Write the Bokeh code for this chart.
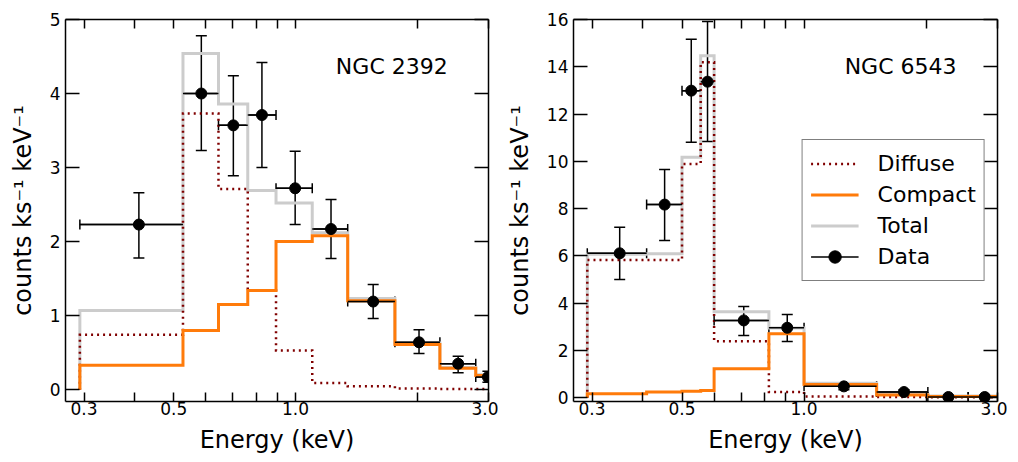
from bokeh.plotting import figure
from bokeh.models import (FixedTicker, LogAxis, LinearAxis, Range1d, Legend, LegendItem, Label,
                          Whisker, TeeHead, ColumnDataSource, CustomJSTickFormatter, SingleIntervalTicker)
from bokeh.layouts import row
from bokeh.embed import file_html
from bokeh.resources import INLINE

FONT = "DejaVu Sans"
C_DIFF = "#800000"
C_COMP = "#ff7b0a"
C_TOT = "#cccccc"

# shared x ticks (keV)
x_major_ticks = [0.3, 0.5, 1.0, 3.0]
x_minor_ticks = [0.4, 0.6, 0.7, 0.8, 0.9, 2.0]

# ---------------- NGC 2392 ----------------
n2392_edges = [0.293, 0.527, 0.645, 0.762, 0.895, 1.10, 1.346, 1.761, 2.275, 2.79, 3.2]
n2392_diffuse = [0.74, 3.73, 2.71, 1.34, 0.53, 0.09, 0.045, 0.015, 0.01, 0.01]
n2392_compact = [0.33, 0.80, 1.15, 1.34, 2.00, 2.08, 1.20, 0.61, 0.29, 0.19]
n2392_total = [1.07, 4.54, 3.86, 2.69, 2.52, 2.12, 1.23, 0.63, 0.30, 0.20]
n2392_data_e = [0.410, 0.585, 0.702, 0.826, 0.998, 1.224, 1.556, 2.02, 2.524, 2.99]
n2392_data_y = [2.23, 4.00, 3.57, 3.71, 2.72, 2.17, 1.19, 0.64, 0.35, 0.17]
n2392_data_up = [2.66, 4.78, 4.24, 4.42, 3.22, 2.57, 1.42, 0.81, 0.45, 0.25]
n2392_data_lo = [1.78, 3.23, 2.89, 3.00, 2.23, 1.77, 0.96, 0.49, 0.23, 0.10]

# ---------------- NGC 6543 ----------------
n6543_edges = [0.292, 0.409, 0.500, 0.556, 0.600, 0.819, 1.00, 1.51, 2.02, 2.54, 3.2]
n6543_diffuse = [5.83, 5.83, 9.89, 14.19, 2.39, 0.24, 0.05, 0.03, 0.02, 0.02]
n6543_compact = [0.17, 0.24, 0.27, 0.31, 1.23, 2.71, 0.56, 0.11, 0.05, 0.05]
n6543_total = [6.07, 6.09, 10.17, 14.47, 3.64, 2.95, 0.61, 0.14, 0.07, 0.07]
n6543_data_e = [0.351, 0.453, 0.527, 0.578, 0.710, 0.909, 1.254, 1.764, 2.27, 2.79]
n6543_data_y = [6.11, 8.17, 12.99, 13.37, 3.27, 2.96, 0.48, 0.24, 0.03, 0.03]
n6543_data_up = [7.21, 9.65, 15.16, 15.92, 3.86, 3.52, 0.62, 0.34, 0.10, 0.10]
n6543_data_lo = [5.00, 6.65, 10.81, 10.84, 2.63, 2.38, 0.34, 0.14, 0.00, 0.00]

Y_LABEL = "counts ks\u207b\u00b9 keV\u207b\u00b9"
X_LABEL = "Energy (keV)"


def style_axis(ax, tick_len, labels=True):
    ax.axis_line_width = 1.5
    ax.axis_line_color = "black"
    ax.major_tick_in = tick_len
    ax.major_tick_out = 0
    ax.major_tick_line_width = 1.5
    ax.major_tick_line_color = "black"
    ax.minor_tick_in = 9
    ax.minor_tick_out = 0
    ax.minor_tick_line_width = 1.5
    ax.minor_tick_line_color = "black"
    ax.major_label_text_font = FONT
    ax.major_label_text_color = "black"
    ax.axis_label_text_font = FONT
    ax.axis_label_text_font_style = "normal"
    ax.axis_label_text_font_size = "24px"
    ax.axis_label_text_color = "black"
    if labels:
        ax.major_label_text_font_size = "17px"
    else:
        ax.major_label_text_font_size = "0px"
        ax.major_label_standoff = 0
        ax.formatter = CustomJSTickFormatter(code="return ''")


def make_panel(edges, diffuse, compact, total, de, dy, dup, dlo, ymax, ystep,
               name, name_x, name_y, width, left_border, with_legend):
    p = figure(width=width, height=462, x_axis_type="log",
               x_range=Range1d(0.27, 3.0), y_range=Range1d(-0.16, ymax),
               output_backend="svg", toolbar_location=None,
               min_border_left=left_border, min_border_right=10,
               min_border_top=19, min_border_bottom=61)
    p.grid.visible = False
    p.outline_line_color = None
    p.background_fill_color = "white"
    p.border_fill_color = "white"

    xt = FixedTicker(ticks=x_major_ticks, minor_ticks=x_minor_ticks)
    yt = SingleIntervalTicker(interval=ystep, num_minor_ticks=0)

    bx = p.xaxis[0]
    bx.ticker = xt
    bx.formatter = CustomJSTickFormatter(code="return tick.toFixed(1)")
    bx.axis_label = X_LABEL
    style_axis(bx, 9)
    bx.major_label_standoff = 0
    bx.axis_label_standoff = 8

    ly = p.yaxis[0]
    ly.ticker = yt
    ly.axis_label = Y_LABEL
    style_axis(ly, 14)
    ly.minor_tick_line_color = None
    ly.major_label_standoff = 5
    ly.axis_label_standoff = 10

    tx = LogAxis(ticker=xt)
    style_axis(tx, 9, labels=False)
    p.add_layout(tx, "above")
    ry = LinearAxis(ticker=yt)
    style_axis(ry, 14, labels=False)
    ry.minor_tick_line_color = None
    p.add_layout(ry, "right")

    sx = [edges[0]] + list(edges)
    r_tot = p.step(x=sx, y=[0] + total + [total[-1]], mode="after",
                   line_color=C_TOT, line_width=3, line_join="miter")
    r_diff = p.step(x=sx, y=[0] + diffuse + [diffuse[-1]], mode="after",
                    line_color=C_DIFF, line_width=2.5, line_dash="2 4", line_join="miter")
    r_comp = p.step(x=sx, y=[0] + compact + [compact[-1]], mode="after",
                    line_color=C_COMP, line_width=3, line_join="miter")

    src = ColumnDataSource(dict(e=de, y=dy, up=dup, lo=dlo,
                                elo=edges[:-1], ehi=edges[1:]))
    r_xerr = p.segment(x0="elo", y0="y", x1="ehi", y1="y", source=src,
                       line_color="black", line_width=1.5)
    p.add_layout(Whisker(base="y", lower="elo", upper="ehi", dimension="width", source=src,
                         line_color="black", line_width=1.5,
                         lower_head=TeeHead(size=10, line_width=1.5, line_color="black"),
                         upper_head=TeeHead(size=10, line_width=1.5, line_color="black")))
    p.add_layout(Whisker(base="e", lower="lo", upper="up", dimension="height", source=src,
                         line_color="black", line_width=1.5,
                         lower_head=TeeHead(size=11, line_width=1.5, line_color="black"),
                         upper_head=TeeHead(size=11, line_width=1.5, line_color="black")))
    r_pts = p.scatter(x="e", y="y", source=src, size=11, marker="circle",
                      fill_color="black", line_color="black")

    p.add_layout(Label(x=name_x, y=name_y, text=name, text_font=FONT, text_font_size="22px",
                       text_align="center", text_baseline="middle", text_color="black"))

    if with_legend:
        legend = Legend(items=[
            LegendItem(label="Diffuse", renderers=[r_diff]),
            LegendItem(label="Compact", renderers=[r_comp]),
            LegendItem(label="Total", renderers=[r_tot]),
            LegendItem(label="Data", renderers=[r_xerr, r_pts]),
        ], location="center_right")
        legend.label_text_font = FONT
        legend.label_text_font_size = "22px"
        legend.label_text_color = "black"
        legend.glyph_width = 48
        legend.glyph_height = 31
        legend.label_height = 31
        legend.label_standoff = 19
        legend.spacing = 0
        legend.padding = 8
        legend.margin = 12
        legend.border_line_color = "black"
        legend.border_line_width = 1
        legend.background_fill_color = "white"
        legend.background_fill_alpha = 1
        p.add_layout(legend)
    return p


p1 = make_panel(n2392_edges, n2392_diffuse, n2392_compact, n2392_total,
                n2392_data_e, n2392_data_y, n2392_data_up, n2392_data_lo,
                5, 1, "NGC 2392", 1.73, 4.37, 498, 65, False)
p2 = make_panel(n6543_edges, n6543_diffuse, n6543_compact, n6543_total,
                n6543_data_e, n6543_data_y, n6543_data_up, n6543_data_lo,
                16, 2, "NGC 6543", 1.73, 14.0, 509, 75, True)

layout = row(p1, p2)
open("out.html", "w").write(file_html(layout, INLINE))
